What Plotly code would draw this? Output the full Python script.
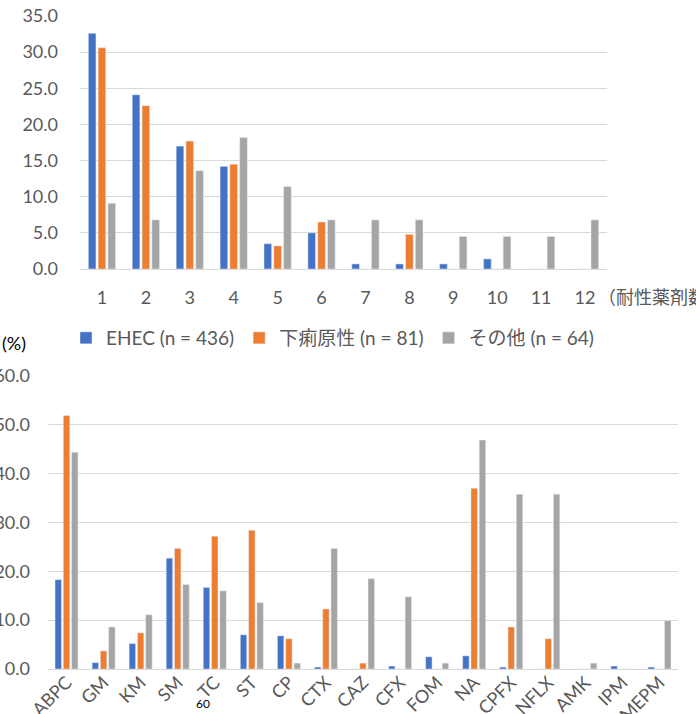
import plotly.graph_objects as go

# ---- data ----
series_names = ["EHEC (n = 436)", "下痢原性 (n = 81)", "その他 (n = 64)"]
series_colors = ["#4472C4", "#ED7D31", "#A5A5A5"]

drug_counts = ["1", "2", "3", "4", "5", "6", "7", "8", "9", "10", "11", "12"]
count_ehec = [32.6, 24.1, 17.0, 14.2, 3.5, 5.0, 0.7, 0.7, 0.7, 1.4, 0, 0]
count_dec = [30.6, 22.6, 17.7, 14.5, 3.2, 6.5, 0, 4.8, 0, 0, 0, 0]
count_other = [9.1, 6.8, 13.6, 18.2, 11.4, 6.8, 6.8, 6.8, 4.5, 4.5, 4.5, 6.8]

drugs = ["ABPC", "GM", "KM", "SM", "TC", "ST", "CP", "CTX", "CAZ", "CFX",
         "FOM", "NA", "CPFX", "NFLX", "AMK", "IPM", "MEPM"]
drug_ehec = [18.3, 1.3, 5.2, 22.7, 16.7, 7.0, 6.8, 0.4, 0, 0.6,
             2.5, 2.7, 0.4, 0, 0, 0.6, 0.4]
drug_dec = [51.9, 3.7, 7.4, 24.7, 27.2, 28.4, 6.2, 12.3, 1.2, 0,
            0, 37.0, 8.6, 6.2, 0, 0, 0]
drug_other = [44.4, 8.6, 11.1, 17.3, 16.0, 13.6, 1.2, 24.7, 18.5, 14.8,
              1.2, 46.9, 35.8, 35.8, 1.2, 0, 9.9]

W, H = 696, 714
FONT = "Lato, 'Noto Sans CJK JP', sans-serif"
TICK_COLOR = "#595959"
GRID = "#D9D9D9"

fig = go.Figure()
for name, color, vals in zip(series_names, series_colors, [count_ehec, count_dec, count_other]):
    fig.add_trace(go.Bar(x=drug_counts, y=vals, name=name, marker_color=color,
                         xaxis="x", yaxis="y", legendgroup=name))
for name, color, vals in zip(series_names, series_colors, [drug_ehec, drug_dec, drug_other]):
    fig.add_trace(go.Bar(x=drugs, y=vals, name=name, marker_color=color,
                         xaxis="x2", yaxis="y2", legendgroup=name, showlegend=False))

def px_x(p):
    return p / W

def px_y(p):
    return (H - p) / H

axis_font = dict(family=FONT, size=18, color=TICK_COLOR)

fig.update_layout(
    width=W, height=H,
    margin=dict(l=0, r=0, t=0, b=0, autoexpand=False),
    paper_bgcolor="white", plot_bgcolor="white",
    font=dict(family=FONT, color=TICK_COLOR),
    barmode="group", bargap=0.33, bargroupgap=0.22,
    xaxis=dict(domain=[px_x(80), px_x(607)], anchor="y", type="category",
               showline=True, linecolor=GRID, linewidth=1, showgrid=False,
               ticks="", tickfont=axis_font, ticklabelstandoff=12,
               automargin=False),
    yaxis=dict(domain=[px_y(269), px_y(16)], anchor="x", range=[0, 35], dtick=5,
               tickformat=".1f", showgrid=True, gridcolor=GRID, gridwidth=1,
               zeroline=False, showline=False, ticks="", tickfont=axis_font,
               ticklabelstandoff=21, automargin=False),
    xaxis2=dict(domain=[px_x(48), px_x(678)], anchor="y2", type="category",
                showline=True, linecolor=GRID, linewidth=1, showgrid=False,
                ticks="", tickangle=-45, automargin=False, ticklabelstandoff=-5,
                tickfont=dict(family=FONT, size=18, color=TICK_COLOR)),
    yaxis2=dict(domain=[px_y(669), px_y(376)], anchor="x2", range=[0, 60], dtick=10,
                tickformat=".1f", showgrid=True, gridcolor=GRID, gridwidth=1,
                zeroline=False, showline=False, ticks="", tickfont=axis_font,
                ticklabelstandoff=17, automargin=False),
    legend=dict(orientation="h", x=px_x(66), y=px_y(338), xanchor="left",
                yanchor="middle", font=dict(family=FONT, size=19, color=TICK_COLOR),
                bgcolor="rgba(0,0,0,0)"),
    annotations=[
        dict(text="（耐性薬剤数）", xref="paper", yref="paper", x=px_x(596), y=px_y(297),
             xanchor="left", yanchor="middle", showarrow=False,
             font=dict(family=FONT, size=18, color=TICK_COLOR)),
        dict(text="(%)", xref="paper", yref="paper", x=0, y=px_y(343),
             xanchor="left", yanchor="middle", showarrow=False,
             font=dict(family=FONT, size=18, color="#000000")),
        dict(text="60", xref="paper", yref="paper", x=px_x(203), y=px_y(703),
             xanchor="center", yanchor="middle", showarrow=False,
             font=dict(family=FONT, size=12, color="#000000")),
    ],
)

fig.write_html("out.html")
